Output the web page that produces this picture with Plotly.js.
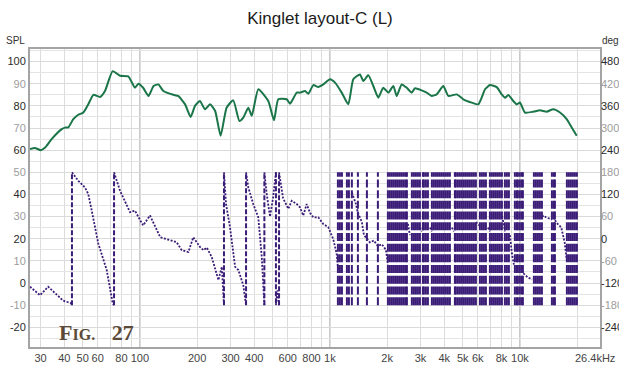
<!DOCTYPE html>
<html>
<head>
<meta charset="utf-8">
<script src="https://cdn.plot.ly/plotly-3.0.1.min.js"></script>
<style>
  html, body { margin: 0; padding: 0; background: #fff; }
  #chart { width: 619px; height: 369px; }
</style>
</head>
<body>
<div id="chart"></div>
<script>
// SPL magnitude response (Hz, dB)
const splHz = [26.4, 28.0, 30.1, 31.7, 34.3, 38.8, 40.3, 42.0, 44.6, 47.4, 50.4, 53.5, 56.9, 61.7, 65.5, 71.9,
  78.6, 86.9, 94.2, 98.1, 104, 111, 118, 125, 133, 150, 159, 173, 185, 195, 207, 220, 234, 249, 266, 286,
  310, 334, 350, 372, 388, 420, 474, 508, 535, 592, 617, 669, 696, 740, 770, 818, 869, 923, 1001, 1064,
  1154, 1250, 1328, 1440, 1499, 1593, 1692, 1798, 1910, 2030, 2157, 2247, 2387, 2537, 2695, 2805, 3042,
  3232, 3434, 3648, 3953, 4200, 4649, 5036, 5576, 6040, 6295, 6553, 6961, 7551, 8023, 8350, 8690, 9234,
  9622, 10010, 10640, 11760, 12760, 13840, 14990, 16260, 17630, 18740, 19910];
const splDb = [60.5, 61, 60, 61.2, 65, 69.5, 70.2, 70.3, 74, 76, 77, 80.7, 85, 84, 86.7, 95.7,
  93.6, 93.3, 88.2, 90, 88.2, 84.5, 89, 89.7, 86.7, 85, 84.5, 80.7, 75, 80, 82.2, 78.5, 80.7, 77.7, 66.5, 79.2,
  82.5, 73.2, 74.7, 79.2, 75.5, 87.5, 82.2, 73.5, 83, 83, 81, 86, 86, 86.7, 85.5, 89.4, 88.5, 89.7, 92, 90.5,
  86, 80.7, 92, 94.2, 91.2, 93.9, 89, 83.7, 88.2, 86, 89, 84.5, 89.7, 88.2, 86, 88, 87,
  86, 84.5, 85.2, 89, 84.5, 85.2, 83, 81.5, 80.7, 83.7, 87.5, 89.4, 88.5, 85.2, 83.7, 84.9, 82.2,
  80.7, 81.5, 77, 77.4, 78, 77.4, 78.5, 77, 74, 70.2, 66.5];

// Phase response (Hz, degrees); a repeated frequency marks a wrap, null breaks the trace
const phaseHz = [26.4, 29.8, 32.9, 35.7, 39.5, 43.2, 43.9, 43.9, 47.4, 51.4, 53.5, 55.8, 60.4, 66.9, 71.9, 73.1,
  73.1, 74.0, 78.6, 88.7, 94.2, 104, 113, 128, 156, 166, 180, 191, 207, 216, 225, 239, 259, 270, 277,
  277, 284, 298, 317, 330, 350, 362, 362, 372, 395, 420, 438, 452, 452, 465, 484, 502, 520, 520, 530, 540,
  540, 555, 567, 604, 630, 669, 696, 724, 755, 786, 818, 869, 923, 981, 1040, 1085, 1106, null,
  1305, 1337, 1370, 1404, 1474, 1510, 1566, 1624, 1704, 1789, 1878, 1971, 2020, null,
  2574, 2637, null, 2976, 3049, null, 3360, 3442, null, 4386, 4494, null,
  5867, 6011, 6158, null, 6785, 6952, null, 8040, 8237, 8337, null, 8858, 9075, 9298, null,
  10245, 10497, 11000, 11600, null, 13056, 13376, 13704, 14741, null,
  15288, 15800, 16500, 17200, 17676];
const phaseDeg = [-130, -153, -130, -148, -168, -174, -180, 180, 157, 139, 121, 76, -13, -85, -175, -180,
  180, 171, 130, 72, 76, 36, 63, 4, -9, -31, -36, 4, -22, -31, -24, -50, -112, -76, -180,
  180, 94, 31, -76, -85, -126, -180, 180, 139, 94, 58, -50, -180, 180, 121, 60, 110, 180, -180, -140, -180,
  180, 140, 110, 81, 103, 94, 85, 63, 94, 70, 58, 58, 40, 31, 0, -40, -85, null,
  125, 110, 95, 70, 45, 10, 0, -10, -5, -20, -15, -30, -70, null,
  40, 10, null, 30, 20, null, 30, 20, null, 30, 20, null,
  45, 40, 35, null, 30, 20, null, 60, 40, 20, null, 10, -40, -70, null,
  -85, -95, -105, -110, null, 60, 63, 58, 52, null,
  50, 40, 31, -10, -60];

// Rapid wraps above 1 kHz (Hz), each a full -180..180 jump
const wrapHz = [1102, 1129, 1157, 1229, 1259, 1305, 1404, 1566, 1789,
  2020, 2069, 2120, 2172, 2226, 2280, 2336, 2393, 2452, 2512, 2543,
  2701, 2768, 2836, 2905, 2976, 3086, 3124, 3201, 3280,
  3442, 3527, 3614, 3702, 3793, 3886, 3981, 4079, 4179, 4281,
  4549, 4604, 4717, 4833, 4952, 5073, 5198, 5325, 5456, 5590, 5727, 5867,
  6158, 6310, 6464, 6623, 6952, 7122, 7297, 7476, 7659, 7847, 8040,
  8337, 8542, 8751, 9411, 9643, 9760, 10000, 10245, 10370,
  11850, 12141, 12439, 12743, 13056, 14741, 15102, 15288,
  17676, 18110, 18554, 19009, 19475, 19953];

const freqTickHz = [30, 40, 50, 60, 80, 100, 200, 300, 400, 600, 800, 1000, 2000, 3000, 4000, 5000, 6000, 8000, 10000];
const freqTickText = ['30', '40', '50', '60', '80', '100', '200', '300', '400', '600', '800', '1k', '2k', '3k', '4k', '5k', '6k', '8k', '10k'];
const freqEndLabel = '26.4kHz';
const freqGridHz = [30, 40, 50, 60, 70, 80, 90, 200, 300, 400, 500, 600, 700, 800, 900,
  2000, 3000, 4000, 5000, 6000, 7000, 8000, 9000, 20000];
const decadeHz = [100, 1000, 10000];
const splTicks = [-20, -10, 0, 10, 20, 30, 40, 50, 60, 70, 80, 90, 100];
const degTicks = [-240, -180, -120, -60, 0, 60, 120, 180, 240, 300, 360, 420, 480];

const PURPLE = '#3b1d78';
const GREEN = '#1a7548';

// alternate dark / light tick labels
const shade = (vals) => vals.map((v, i) =>
  (i % 2 === 0) ? String(v) : '<span style="color:#9c9c9c">' + v + '</span>');

// split phase into dotted runs and dashed wrap jumps
const curveX = [], curveY = [], jumpX = [], jumpY = [];
for (let i = 0; i < phaseHz.length; i++) {
  if (i > 0 && phaseHz[i] !== null && phaseHz[i] === phaseHz[i - 1]) {
    jumpX.push(phaseHz[i - 1], phaseHz[i], null);
    jumpY.push(phaseDeg[i - 1], phaseDeg[i], null);
    curveX.push(null); curveY.push(null);
  }
  curveX.push(phaseHz[i]); curveY.push(phaseDeg[i]);
}
const wrapX = [], wrapY = [];
wrapHz.forEach(f => { wrapX.push(f, f, null); wrapY.push(-180, 180, null); });

const traces = [
  { x: wrapX, y: wrapY, yaxis: 'y2', mode: 'lines', hoverinfo: 'skip',
    line: { color: PURPLE, width: 2, dash: '8px,2.7px' } },
  { x: jumpX, y: jumpY, yaxis: 'y2', mode: 'lines', hoverinfo: 'skip',
    line: { color: PURPLE, width: 2, dash: '5px,2px' } },
  { x: curveX, y: curveY, yaxis: 'y2', mode: 'lines', connectgaps: false,
    line: { color: PURPLE, width: 1.8, dash: '2px,1.5px' } },
  { x: splHz, y: splDb, mode: 'lines',
    line: { color: GREEN, width: 2, shape: 'spline', smoothing: 0.5 } }
];

const frame = { showline: true, mirror: true, linecolor: '#a4a4a4', linewidth: 2, zeroline: false };

const layout = {
  width: 619, height: 369,
  margin: { l: 30, r: 19, t: 49, b: 22, autoexpand: false },
  paper_bgcolor: '#ffffff', plot_bgcolor: '#ffffff',
  showlegend: false,
  font: { family: 'Liberation Sans, Arial, sans-serif', size: 11, color: '#2a2a2a' },
  title: { text: 'Kinglet layout-C (L)', font: { size: 17, color: '#1a1a1a' },
    x: 0.517, xanchor: 'center', y: 0.952, yanchor: 'middle' },
  xaxis: Object.assign({
    type: 'log', range: [Math.log10(26.4), Math.log10(26400)],
    tickmode: 'array', tickvals: freqTickHz, ticktext: freqTickText,
    ticks: '', showgrid: false, tickfont: { size: 11, color: '#444' },
    minor: { tickmode: 'array', tickvals: freqGridHz, showgrid: true, gridcolor: '#dcdcdc', gridwidth: 1, ticks: '' }
  }, frame),
  yaxis: Object.assign({
    range: [-28.9, 105.7], tickmode: 'array', tickvals: splTicks, ticktext: shade(splTicks),
    ticks: '', showgrid: true, gridcolor: '#dadada', gridwidth: 1,
    minor: { dtick: 5, tick0: 0, showgrid: true, gridcolor: '#e4e4e4', gridwidth: 1, ticks: '' },
    tickfont: { size: 11, color: '#2a2a2a' }
  }, frame),
  yaxis2: {
    overlaying: 'y', side: 'right', range: [-293.4, 514.2],
    tickmode: 'array', tickvals: degTicks, ticktext: shade(degTicks),
    ticks: '', showgrid: false, zeroline: false, showline: false,
    tickfont: { size: 11, color: '#2a2a2a' }
  },
  shapes: decadeHz.map(f => ({
    type: 'line', xref: 'x', yref: 'paper', x0: f, x1: f, y0: 0, y1: 1,
    layer: 'below', line: { color: '#a9a9a9', width: 1 }
  })),
  annotations: [
    { text: 'SPL', xref: 'paper', yref: 'paper', x: -0.0246, y: 1.027, showarrow: false,
      xanchor: 'center', yanchor: 'middle', font: { size: 10, color: '#333' } },
    { text: 'deg', xref: 'paper', yref: 'paper', x: 1.019, y: 1.027, showarrow: false,
      xanchor: 'center', yanchor: 'middle', font: { size: 10, color: '#333' } },
    { text: freqEndLabel, xref: 'paper', yref: 'paper', x: 0.991, y: -0.037, showarrow: false,
      xanchor: 'center', yanchor: 'middle', font: { size: 11, color: '#444' } },
    { text: '<b>F<span style="font-size:16px">IG.</span>&nbsp;&nbsp;&nbsp;27</b>', xref: 'paper', yref: 'paper',
      x: 0.1175, y: 0.05, showarrow: false, xanchor: 'center', yanchor: 'middle',
      font: { family: 'Liberation Serif, DejaVu Serif, serif', size: 22, color: '#5b4a39' } }
  ]
};

Plotly.newPlot('chart', traces, layout, { staticPlot: true, displayModeBar: false });
</script>
</body>
</html>
